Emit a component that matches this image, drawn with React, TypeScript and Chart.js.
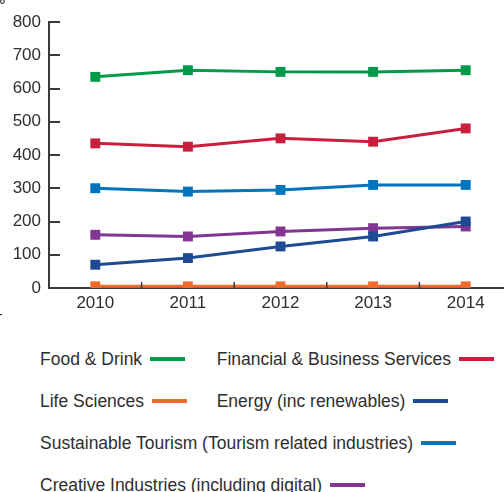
import React, { useEffect, useRef } from "react";
import { Chart, registerables } from "chart.js";

Chart.register(...registerables);

const years = ["2010", "2011", "2012", "2013", "2014"];
const seriesNames = [
  "Food & Drink",
  "Financial & Business Services",
  "Life Sciences",
  "Energy (inc renewables)",
  "Sustainable Tourism (Tourism related industries)",
  "Creative Industries (including digital)",
];
const foodDrink = [635, 655, 650, 650, 655];
const financial = [435, 425, 450, 440, 480];
const lifeSciences = [5, 5, 5, 5, 5];
const energy = [70, 90, 125, 155, 200];
const tourism = [300, 290, 295, 310, 310];
const creative = [160, 155, 170, 180, 185];
const seriesValues = [foodDrink, financial, lifeSciences, energy, tourism, creative];
const seriesColors = ["#009a4a", "#c91f3f", "#f26a2a", "#1e4a93", "#0075be", "#833594"];
const yMin = 0;
const yMax = 800;
const yStep = 100;

const legendRows = [[0, 1], [2, 3], [4], [5]];

const FONT = "'Liberation Sans', Arial, Helvetica, sans-serif";
const TEXT = "#2e2e2e";
const AXIS = "#3a3a3a";

const CANVAS_W = 519;
const CANVAS_H = 330;

const innerTicks = {
  id: "innerTicks",
  afterDraw(chart: any) {
    const ctx = chart.ctx;
    const x = chart.scales.x;
    const y = chart.scales.y;
    const area = chart.chartArea;
    ctx.save();
    ctx.strokeStyle = AXIS;
    ctx.lineWidth = 2;
    y.ticks.forEach((t: any) => {
      const py = Math.round(y.getPixelForValue(t.value));
      ctx.beginPath();
      ctx.moveTo(area.left, py);
      ctx.lineTo(area.left + 11, py);
      ctx.stroke();
    });
    ctx.lineWidth = 1.5;
    for (let i = 0; i < years.length - 1; i++) {
      const px = (x.getPixelForValue(i) + x.getPixelForValue(i + 1)) / 2;
      ctx.beginPath();
      ctx.moveTo(px, area.bottom);
      ctx.lineTo(px, area.bottom - 6);
      ctx.stroke();
    }
    ctx.restore();
  },
};

export default function App() {
  const ref = useRef<HTMLCanvasElement>(null);
  useEffect(() => {
    if (!ref.current) return;
    const chart = new Chart(ref.current, {
      type: "line",
      data: {
        labels: years,
        datasets: seriesNames.map((name, i) => ({
          label: name,
          data: seriesValues[i],
          borderColor: seriesColors[i],
          backgroundColor: seriesColors[i],
          borderWidth: 3,
          pointStyle: "rect",
          pointRadius: 7,
          pointBorderWidth: 0,
          pointBackgroundColor: seriesColors[i],
          tension: 0,
          fill: false,
        })),
      },
      options: {
        responsive: false,
        animation: false,
        devicePixelRatio: 1,
        layout: { padding: { left: 0, top: 22, right: 0, bottom: 0 } },
        plugins: { legend: { display: false }, tooltip: { enabled: false } },
        scales: {
          x: {
            type: "category",
            offset: true,
            grid: { display: false, drawTicks: false },
            border: { display: true, color: AXIS, width: 2 },
            ticks: { color: TEXT, font: { family: FONT, size: 17 }, padding: 5, maxRotation: 0 },
            afterFit(scale: any) {
              scale.height = CANVAS_H - 288;
            },
          },
          y: {
            min: yMin,
            max: yMax,
            grid: { display: false, drawTicks: false },
            border: { display: true, color: AXIS, width: 2 },
            ticks: { stepSize: yStep, color: TEXT, font: { family: FONT, size: 17 }, padding: 8 },
            afterFit(scale: any) {
              scale.width = 49;
            },
          },
        },
      },
      plugins: [innerTicks],
    });
    return () => chart.destroy();
  }, []);

  return (
    <div
      style={{
        position: "fixed",
        left: 0,
        top: 0,
        width: 504,
        height: 492,
        overflow: "hidden",
        background: "#fff",
        fontFamily: FONT,
        color: TEXT,
      }}
    >
      <canvas
        ref={ref}
        width={CANVAS_W}
        height={CANVAS_H}
        style={{ position: "absolute", left: 0, top: 0, width: CANVAS_W, height: CANVAS_H }}
      />
      <span style={{ position: "absolute", left: -1, top: -4.5, fontSize: 17, lineHeight: "20px" }}>°</span>
      <span style={{ position: "absolute", left: -2, top: 306, fontSize: 14, lineHeight: "16px" }}>-</span>
      {legendRows.map((row, r) => (
        <div key={r} style={{ position: "absolute", left: 0, top: 349 + r * 41.85, width: 504, height: 20 }}>
          {row.map((idx, c) => (
            <div
              key={idx}
              style={{
                position: "absolute",
                left: c === 0 ? 40 : 216.7,
                top: 0,
                height: 20,
                display: "flex",
                alignItems: "center",
                whiteSpace: "nowrap",
                fontSize: 17.5,
                lineHeight: "20px",
              }}
            >
              <span>{seriesNames[idx]}</span>
              <span
                style={{
                  display: "inline-block",
                  width: 35,
                  height: 4,
                  marginLeft: 8,
                  background: seriesColors[idx],
                }}
              />
            </div>
          ))}
        </div>
      ))}
    </div>
  );
}
